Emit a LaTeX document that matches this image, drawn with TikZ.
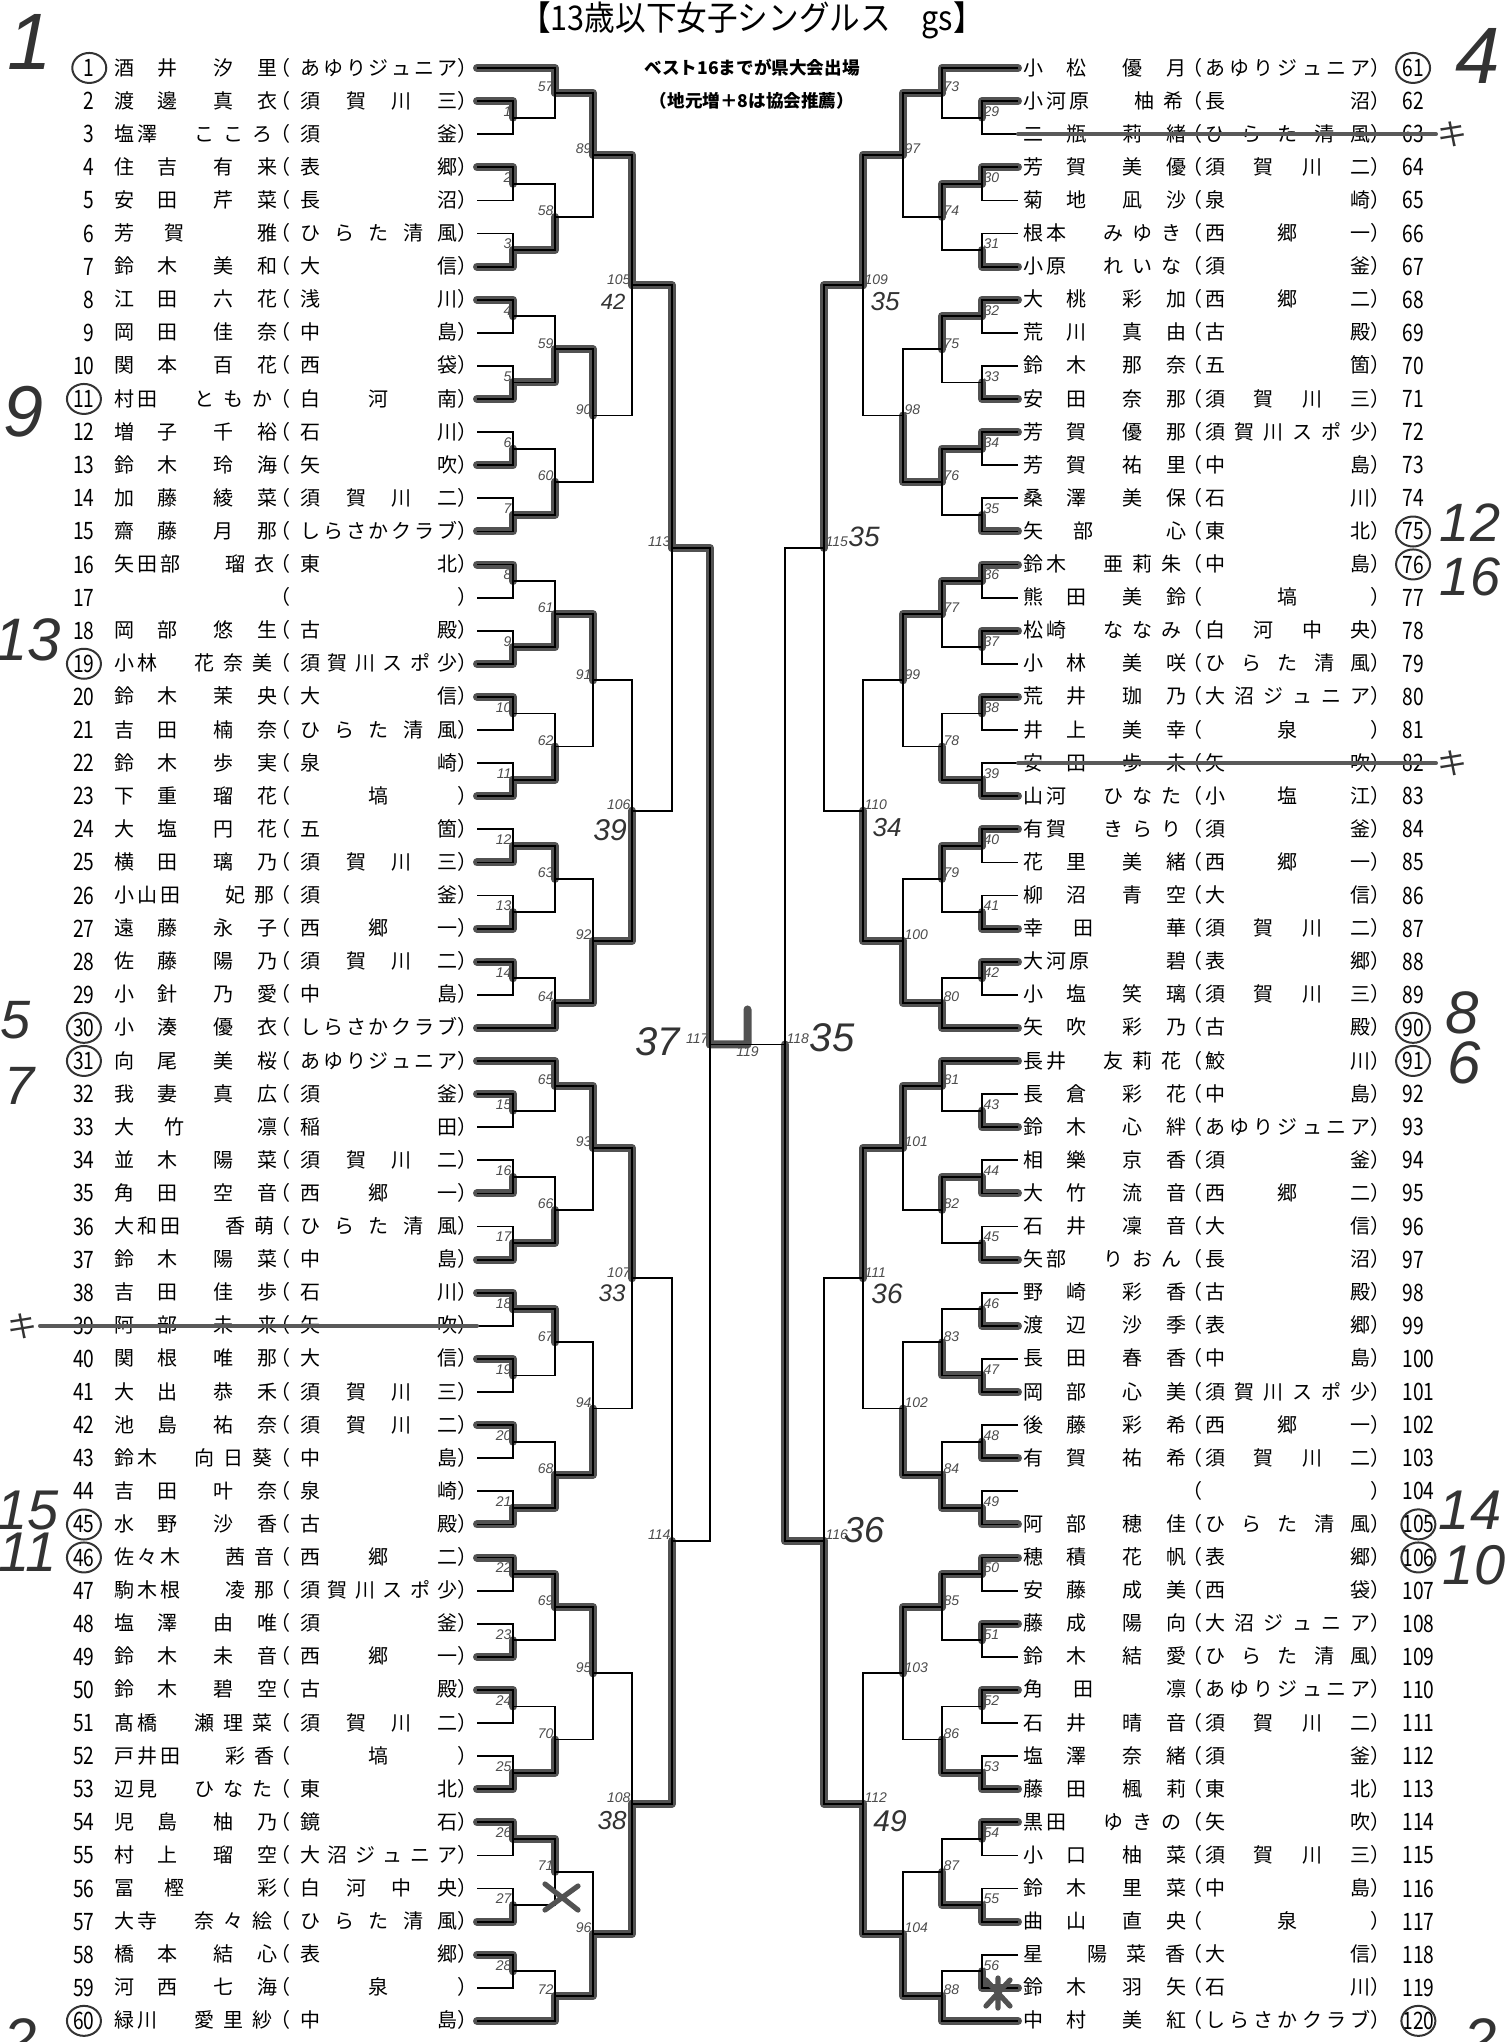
\documentclass[tikz,border=0pt]{standalone}
\usepackage{graphicx}
\usepackage{fontspec}
\setmainfont{Noto Sans CJK JP}
\newfontfamily\labfont{Liberation Sans}
\newfontfamily\handfont{Liberation Sans}
\usetikzlibrary{calc}
\pgfdeclarelayer{paper}
\pgfdeclarelayer{marker}
\pgfsetlayers{paper,marker,main}

% one pixel of the sheet
\newlength\px
\setlength\px{0.5pt}
% a character centred at an offset
\newcommand\pc[2]{\makebox[0pt][l]{\hspace*{\dimexpr#1\px-0.5em\relax}#2}}
% name layouts (surname + given name)
\newcommand\nA[4]{\pc{0}{#1}\pc{43}{#2}\pc{99}{#3}\pc{143}{#4}}
\newcommand\nB[5]{\pc{0}{#1}\pc{23}{#2}\pc{80}{#3}\pc{109}{#4}\pc{138}{#5}}
\newcommand\nC[5]{\pc{0}{#1}\pc{23}{#2}\pc{46}{#3}\pc{111}{#4}\pc{140}{#5}}
\newcommand\nD[3]{\pc{0}{#1}\pc{50}{#2}\pc{143}{#3}}
\newcommand\nE[4]{\pc{0}{#1}\pc{64}{#2}\pc{103}{#3}\pc{142}{#4}}
\newcommand\nF[4]{\pc{0}{#1}\pc{23}{#2}\pc{46}{#3}\pc{143}{#4}}
% spread the letters of a club over its field
\def\spread#1{\spreadi#1\relax}
\def\spreadi#1#2{#1\ifx\relax#2\else\hfill\expandafter\spreadi\expandafter#2\fi}
\newcommand\clL[1]{（\hspace*{10\px}\makebox[157\px][l]{\spread{#1}}）}
\newcommand\clR[1]{（\hspace*{3\px}\makebox[165\px][l]{\spread{#1}}）}

% player rows
\newcommand\pl[3]{%
  \pgfmathsetmacro\yy{68+33.1*(#1-1)}%
  \coordinate (p#1) at (477,\yy);
  \node[no,anchor=base east] (no#1) at (95,\yy+8.5) {\scalebox{.8}[1]{#1}};
  \node[nm] (nm#1) at (123,\yy+7) {#2};
  \node[nm] (cl#1) at (270,\yy+7) {\clL{#3}};
}
\newcommand\pr[3]{%
  \pgfmathsetmacro\yy{68+33.1*(#1-61)}%
  \coordinate (p#1) at (1018,\yy);
  \node[nm] (nm#1) at (1032,\yy+7) {#2};
  \node[nm] (cl#1) at (1182,\yy+7) {\clR{#3}};
  \node[no,anchor=base west] (no#1) at (1402,\yy+8.5) {\scalebox{.8}[1]{#1}};
}
% one match: number, two entries, column, winner
\newcommand\mt[5]{%
  \coordinate (mid#1) at ($(#2)!.5!(#3)$);
  \coordinate (m#1) at (mid#1 -| #4);
  \begin{pgfonlayer}{marker}
    \draw[hilite] (#5) -- (#5 -| m#1) -- (m#1);
  \end{pgfonlayer}
  \draw[bk] (#2) -- (#2 -| m#1) -- (#3 -| m#1) -- (#3);
  \node[lab] (t#1) at (m#1) {#1};
}

\begin{document}
\begin{tikzpicture}[x=0.5pt,y=-0.5pt,
  nm/.style={anchor=base west,inner sep=0pt,font=\fontsize{10}{12}\selectfont},
  no/.style={inner sep=0pt,font=\fontsize{12}{12}\selectfont},
  bk/.style={line width=0.9pt},
  hilite/.style={line width=4pt,draw=black!68,line cap=round,line join=round},
  labL/.style={inner sep=0pt,anchor=east,xshift=-0.6pt,yshift=3pt,text=black!70,
    font=\labfont\itshape\fontsize{7}{7}\selectfont},
  labR/.style={inner sep=0pt,anchor=west,xshift=0.6pt,yshift=3pt,text=black!70,
    font=\labfont\itshape\fontsize{7}{7}\selectfont},
  hw/.style={inner sep=0pt,text=black!80,font=\handfont\itshape\fontsize{#1}{#1}\selectfont},
  ring/.style={draw=black!80,line width=1pt},
  pen/.style={draw=black!65,line width=2pt,line cap=round},
]
\useasboundingbox (0,0) rectangle (1506,2042);
\begin{pgfonlayer}{paper}
  \fill[white] (0,0) rectangle (1506,2042);
\end{pgfonlayer}

% heading
\node[font=\fontsize{17}{17}\selectfont] (title) at (752,20) {\scalebox{.9}[1]{【13歳以下女子シングルス　gs】}};
\node[font=\bfseries\fontsize{8.8}{9}\selectfont] (note1) at (752,68) {ベスト16までが県大会出場};
\node[font=\bfseries\fontsize{8.8}{9}\selectfont] (note2) at (752,101) {（地元増＋8は協会推薦）};

% columns of the draw
\coordinate (L1) at (513,0); \coordinate (L2) at (555,0); \coordinate (L3) at (593,0);
\coordinate (L4) at (632,0); \coordinate (L5) at (672,0); \coordinate (L6) at (710,0);
\coordinate (R1) at (982,0); \coordinate (R2) at (942,0); \coordinate (R3) at (903,0);
\coordinate (R4) at (863,0); \coordinate (R5) at (824,0); \coordinate (R6) at (785,0);

% left half
\pl{1}{\nA{酒}{井}{汐}{里}}{あゆりジュニア}
\pl{2}{\nA{渡}{邊}{真}{衣}}{須賀川三}
\pl{3}{\nB{塩}{澤}{こ}{こ}{ろ}}{須釜}
\pl{4}{\nA{住}{吉}{有}{来}}{表郷}
\pl{5}{\nA{安}{田}{芹}{菜}}{長沼}
\pl{6}{\nD{芳}{賀}{雅}}{ひらた清風}
\pl{7}{\nA{鈴}{木}{美}{和}}{大信}
\pl{8}{\nA{江}{田}{六}{花}}{浅川}
\pl{9}{\nA{岡}{田}{佳}{奈}}{中島}
\pl{10}{\nA{関}{本}{百}{花}}{西袋}
\pl{11}{\nB{村}{田}{と}{も}{か}}{白河南}
\pl{12}{\nA{増}{子}{千}{裕}}{石川}
\pl{13}{\nA{鈴}{木}{玲}{海}}{矢吹}
\pl{14}{\nA{加}{藤}{綾}{菜}}{須賀川二}
\pl{15}{\nA{齋}{藤}{月}{那}}{しらさかクラブ}
\pl{16}{\nC{矢}{田}{部}{瑠}{衣}}{東北}
\pl{17}{}{\hfill}
\pl{18}{\nA{岡}{部}{悠}{生}}{古殿}
\pl{19}{\nB{小}{林}{花}{奈}{美}}{須賀川スポ少}
\pl{20}{\nA{鈴}{木}{茉}{央}}{大信}
\pl{21}{\nA{吉}{田}{楠}{奈}}{ひらた清風}
\pl{22}{\nA{鈴}{木}{歩}{実}}{泉崎}
\pl{23}{\nA{下}{重}{瑠}{花}}{\hfill 塙\hfill}
\pl{24}{\nA{大}{塩}{円}{花}}{五箇}
\pl{25}{\nA{横}{田}{璃}{乃}}{須賀川三}
\pl{26}{\nC{小}{山}{田}{妃}{那}}{須釜}
\pl{27}{\nA{遠}{藤}{永}{子}}{西郷一}
\pl{28}{\nA{佐}{藤}{陽}{乃}}{須賀川二}
\pl{29}{\nA{小}{針}{乃}{愛}}{中島}
\pl{30}{\nA{小}{湊}{優}{衣}}{しらさかクラブ}
\pl{31}{\nA{向}{尾}{美}{桜}}{あゆりジュニア}
\pl{32}{\nA{我}{妻}{真}{広}}{須釜}
\pl{33}{\nD{大}{竹}{凛}}{稲田}
\pl{34}{\nA{並}{木}{陽}{菜}}{須賀川二}
\pl{35}{\nA{角}{田}{空}{音}}{西郷一}
\pl{36}{\nC{大}{和}{田}{香}{萌}}{ひらた清風}
\pl{37}{\nA{鈴}{木}{陽}{菜}}{中島}
\pl{38}{\nA{吉}{田}{佳}{歩}}{石川}
\pl{39}{\nA{阿}{部}{未}{来}}{矢吹}
\pl{40}{\nA{関}{根}{唯}{那}}{大信}
\pl{41}{\nA{大}{出}{恭}{禾}}{須賀川三}
\pl{42}{\nA{池}{島}{祐}{奈}}{須賀川二}
\pl{43}{\nB{鈴}{木}{向}{日}{葵}}{中島}
\pl{44}{\nA{吉}{田}{叶}{奈}}{泉崎}
\pl{45}{\nA{水}{野}{沙}{香}}{古殿}
\pl{46}{\nC{佐}{々}{木}{茜}{音}}{西郷二}
\pl{47}{\nC{駒}{木}{根}{凌}{那}}{須賀川スポ少}
\pl{48}{\nA{塩}{澤}{由}{唯}}{須釜}
\pl{49}{\nA{鈴}{木}{未}{音}}{西郷一}
\pl{50}{\nA{鈴}{木}{碧}{空}}{古殿}
\pl{51}{\nB{髙}{橋}{瀬}{理}{菜}}{須賀川二}
\pl{52}{\nC{戸}{井}{田}{彩}{香}}{\hfill 塙\hfill}
\pl{53}{\nB{辺}{見}{ひ}{な}{た}}{東北}
\pl{54}{\nA{児}{島}{柚}{乃}}{鏡石}
\pl{55}{\nA{村}{上}{瑠}{空}}{大沼ジュニア}
\pl{56}{\nD{冨}{樫}{彩}}{白河中央}
\pl{57}{\nB{大}{寺}{奈}{々}{絵}}{ひらた清風}
\pl{58}{\nA{橋}{本}{結}{心}}{表郷}
\pl{59}{\nA{河}{西}{七}{海}}{\hfill 泉\hfill}
\pl{60}{\nB{緑}{川}{愛}{里}{紗}}{中島}

% right half
\pr{61}{\nA{小}{松}{優}{月}}{あゆりジュニア}
\pr{62}{\nC{小}{河}{原}{柚}{希}}{長沼}
\pr{63}{\nA{二}{瓶}{莉}{緒}}{ひらた清風}
\pr{64}{\nA{芳}{賀}{美}{優}}{須賀川二}
\pr{65}{\nA{菊}{地}{凪}{沙}}{泉崎}
\pr{66}{\nB{根}{本}{み}{ゆ}{き}}{西郷一}
\pr{67}{\nB{小}{原}{れ}{い}{な}}{須釜}
\pr{68}{\nA{大}{桃}{彩}{加}}{西郷二}
\pr{69}{\nA{荒}{川}{真}{由}}{古殿}
\pr{70}{\nA{鈴}{木}{那}{奈}}{五箇}
\pr{71}{\nA{安}{田}{奈}{那}}{須賀川三}
\pr{72}{\nA{芳}{賀}{優}{那}}{須賀川スポ少}
\pr{73}{\nA{芳}{賀}{祐}{里}}{中島}
\pr{74}{\nA{桑}{澤}{美}{保}}{石川}
\pr{75}{\nD{矢}{部}{心}}{東北}
\pr{76}{\nB{鈴}{木}{亜}{莉}{朱}}{中島}
\pr{77}{\nA{熊}{田}{美}{鈴}}{\hfill 塙\hfill}
\pr{78}{\nB{松}{崎}{な}{な}{み}}{白河中央}
\pr{79}{\nA{小}{林}{美}{咲}}{ひらた清風}
\pr{80}{\nA{荒}{井}{珈}{乃}}{大沼ジュニア}
\pr{81}{\nA{井}{上}{美}{幸}}{\hfill 泉\hfill}
\pr{82}{\nA{安}{田}{歩}{未}}{矢吹}
\pr{83}{\nB{山}{河}{ひ}{な}{た}}{小塩江}
\pr{84}{\nB{有}{賀}{き}{ら}{り}}{須釜}
\pr{85}{\nA{花}{里}{美}{緒}}{西郷一}
\pr{86}{\nA{柳}{沼}{青}{空}}{大信}
\pr{87}{\nD{幸}{田}{華}}{須賀川二}
\pr{88}{\nF{大}{河}{原}{碧}}{表郷}
\pr{89}{\nA{小}{塩}{笑}{璃}}{須賀川三}
\pr{90}{\nA{矢}{吹}{彩}{乃}}{古殿}
\pr{91}{\nB{長}{井}{友}{莉}{花}}{鮫川}
\pr{92}{\nA{長}{倉}{彩}{花}}{中島}
\pr{93}{\nA{鈴}{木}{心}{絆}}{あゆりジュニア}
\pr{94}{\nA{相}{樂}{京}{香}}{須釜}
\pr{95}{\nA{大}{竹}{流}{音}}{西郷二}
\pr{96}{\nA{石}{井}{凜}{音}}{大信}
\pr{97}{\nB{矢}{部}{り}{お}{ん}}{長沼}
\pr{98}{\nA{野}{崎}{彩}{香}}{古殿}
\pr{99}{\nA{渡}{辺}{沙}{季}}{表郷}
\pr{100}{\nA{長}{田}{春}{香}}{中島}
\pr{101}{\nA{岡}{部}{心}{美}}{須賀川スポ少}
\pr{102}{\nA{後}{藤}{彩}{希}}{西郷一}
\pr{103}{\nA{有}{賀}{祐}{希}}{須賀川二}
\pr{104}{}{\hfill}
\pr{105}{\nA{阿}{部}{穂}{佳}}{ひらた清風}
\pr{106}{\nA{穂}{積}{花}{帆}}{表郷}
\pr{107}{\nA{安}{藤}{成}{美}}{西袋}
\pr{108}{\nA{藤}{成}{陽}{向}}{大沼ジュニア}
\pr{109}{\nA{鈴}{木}{結}{愛}}{ひらた清風}
\pr{110}{\nD{角}{田}{凛}}{あゆりジュニア}
\pr{111}{\nA{石}{井}{晴}{音}}{須賀川二}
\pr{112}{\nA{塩}{澤}{奈}{緒}}{須釜}
\pr{113}{\nA{藤}{田}{楓}{莉}}{東北}
\pr{114}{\nB{黒}{田}{ゆ}{き}{の}}{矢吹}
\pr{115}{\nA{小}{口}{柚}{菜}}{須賀川三}
\pr{116}{\nA{鈴}{木}{里}{菜}}{中島}
\pr{117}{\nA{曲}{山}{直}{央}}{\hfill 泉\hfill}
\pr{118}{\nE{星}{陽}{菜}{香}}{大信}
\pr{119}{\nA{鈴}{木}{羽}{矢}}{石川}
\pr{120}{\nA{中}{村}{美}{紅}}{しらさかクラブ}

% left bracket
\begin{scope}[lab/.style={labL}]
\mt{1}{p2}{p3}{L1}{p2}
\mt{2}{p4}{p5}{L1}{p4}
\mt{3}{p6}{p7}{L1}{p7}
\mt{4}{p8}{p9}{L1}{p8}
\mt{5}{p10}{p11}{L1}{p11}
\mt{6}{p12}{p13}{L1}{p13}
\mt{7}{p14}{p15}{L1}{p15}
\mt{8}{p16}{p17}{L1}{p16}
\mt{9}{p18}{p19}{L1}{p19}
\mt{10}{p20}{p21}{L1}{p20}
\mt{11}{p22}{p23}{L1}{p23}
\mt{12}{p24}{p25}{L1}{p25}
\mt{13}{p26}{p27}{L1}{p27}
\mt{14}{p28}{p29}{L1}{p28}
\mt{15}{p32}{p33}{L1}{p32}
\mt{16}{p34}{p35}{L1}{p35}
\mt{17}{p36}{p37}{L1}{p37}
\mt{18}{p38}{p39}{L1}{p38}
\mt{19}{p40}{p41}{L1}{p40}
\mt{20}{p42}{p43}{L1}{p42}
\mt{21}{p44}{p45}{L1}{p45}
\mt{22}{p46}{p47}{L1}{p46}
\mt{23}{p48}{p49}{L1}{p49}
\mt{24}{p50}{p51}{L1}{p50}
\mt{25}{p52}{p53}{L1}{p53}
\mt{26}{p54}{p55}{L1}{p54}
\mt{27}{p56}{p57}{L1}{p57}
\mt{28}{p58}{p59}{L1}{p58}
\mt{57}{p1}{m1}{L2}{p1}
\mt{58}{m2}{m3}{L2}{m3}
\mt{59}{m4}{m5}{L2}{m5}
\mt{60}{m6}{m7}{L2}{m7}
\mt{61}{m8}{m9}{L2}{m9}
\mt{62}{m10}{m11}{L2}{m11}
\mt{63}{m12}{m13}{L2}{m12}
\mt{64}{m14}{p30}{L2}{p30}
\mt{65}{p31}{m15}{L2}{p31}
\mt{66}{m16}{m17}{L2}{m17}
\mt{67}{m18}{m19}{L2}{m18}
\mt{68}{m20}{m21}{L2}{m21}
\mt{69}{m22}{m23}{L2}{m22}
\mt{70}{m24}{m25}{L2}{m25}
\mt{71}{m26}{m27}{L2}{m26}
\mt{72}{m28}{p60}{L2}{p60}
\mt{89}{m57}{m58}{L3}{m57}
\mt{90}{m59}{m60}{L3}{m59}
\mt{91}{m61}{m62}{L3}{m61}
\mt{92}{m63}{m64}{L3}{m64}
\mt{93}{m65}{m66}{L3}{m65}
\mt{94}{m67}{m68}{L3}{m68}
\mt{95}{m69}{m70}{L3}{m69}
\mt{96}{m71}{m72}{L3}{m72}
\mt{105}{m89}{m90}{L4}{m89}
\mt{106}{m91}{m92}{L4}{m92}
\mt{107}{m93}{m94}{L4}{m93}
\mt{108}{m95}{m96}{L4}{m96}
\mt{113}{m105}{m106}{L5}{m105}
\mt{114}{m107}{m108}{L5}{m108}
\mt{117}{m113}{m114}{L6}{m113}
\end{scope}

% right bracket
\begin{scope}[lab/.style={labR}]
\mt{29}{p62}{p63}{R1}{p62}
\mt{30}{p64}{p65}{R1}{p64}
\mt{31}{p66}{p67}{R1}{p67}
\mt{32}{p68}{p69}{R1}{p68}
\mt{33}{p70}{p71}{R1}{p71}
\mt{34}{p72}{p73}{R1}{p72}
\mt{35}{p74}{p75}{R1}{p75}
\mt{36}{p76}{p77}{R1}{p76}
\mt{37}{p78}{p79}{R1}{p78}
\mt{38}{p80}{p81}{R1}{p80}
\mt{39}{p82}{p83}{R1}{p83}
\mt{40}{p84}{p85}{R1}{p84}
\mt{41}{p86}{p87}{R1}{p87}
\mt{42}{p88}{p89}{R1}{p88}
\mt{43}{p92}{p93}{R1}{p93}
\mt{44}{p94}{p95}{R1}{p95}
\mt{45}{p96}{p97}{R1}{p97}
\mt{46}{p98}{p99}{R1}{p99}
\mt{47}{p100}{p101}{R1}{p101}
\mt{48}{p102}{p103}{R1}{p103}
\mt{49}{p104}{p105}{R1}{p105}
\mt{50}{p106}{p107}{R1}{p106}
\mt{51}{p108}{p109}{R1}{p108}
\mt{52}{p110}{p111}{R1}{p110}
\mt{53}{p112}{p113}{R1}{p113}
\mt{54}{p114}{p115}{R1}{p114}
\mt{55}{p116}{p117}{R1}{p117}
\mt{56}{p118}{p119}{R1}{p119}
\mt{73}{p61}{m29}{R2}{p61}
\mt{74}{m30}{m31}{R2}{m30}
\mt{75}{m32}{m33}{R2}{m32}
\mt{76}{m34}{m35}{R2}{m34}
\mt{77}{m36}{m37}{R2}{m36}
\mt{78}{m38}{m39}{R2}{m39}
\mt{79}{m40}{m41}{R2}{m40}
\mt{80}{m42}{p90}{R2}{p90}
\mt{81}{p91}{m43}{R2}{p91}
\mt{82}{m44}{m45}{R2}{m44}
\mt{83}{m46}{m47}{R2}{m47}
\mt{84}{m48}{m49}{R2}{m49}
\mt{85}{m50}{m51}{R2}{m50}
\mt{86}{m52}{m53}{R2}{m53}
\mt{87}{m54}{m55}{R2}{m55}
\mt{88}{m56}{p120}{R2}{p120}
\mt{97}{m73}{m74}{R3}{m73}
\mt{98}{m75}{m76}{R3}{m76}
\mt{99}{m77}{m78}{R3}{m77}
\mt{100}{m79}{m80}{R3}{m80}
\mt{101}{m81}{m82}{R3}{m81}
\mt{102}{m83}{m84}{R3}{m84}
\mt{103}{m85}{m86}{R3}{m85}
\mt{104}{m87}{m88}{R3}{m88}
\mt{109}{m97}{m98}{R4}{m97}
\mt{110}{m99}{m100}{R4}{m100}
\mt{111}{m101}{m102}{R4}{m101}
\mt{112}{m103}{m104}{R4}{m104}
\mt{115}{m109}{m110}{R5}{m109}
\mt{116}{m111}{m112}{R5}{m112}
\mt{118}{m115}{m116}{R6}{m116}
\end{scope}

% final
\coordinate (m119) at ($(m117)!.5!(m118)$);
\begin{pgfonlayer}{marker}
  \draw[hilite] (m117) -- (m119) -- ++(0,-35);
\end{pgfonlayer}
\draw[bk] (m117) -- (m118);
\node[labL,anchor=north,xshift=0.6pt,yshift=-4pt] (t119) at (m119) {119};

% pen notes on the draw
\node[hw=11] (h105) at ($(m105)+(-19,17)$) {42};
\node[hw=15] (h106) at ($(m106)+(-22,19)$) {39};
\node[hw=12] (h107) at ($(m107)+(-20,15)$) {33};
\node[hw=13] (h108) at ($(m108)+(-20,17)$) {38};
\node[hw=13] (h109) at ($(m109)+(22,16)$) {35};
\node[hw=13] (h110) at ($(m110)+(24,17)$) {34};
\node[hw=14] (h111) at ($(m111)+(24,16)$) {36};
\node[hw=15] (h112) at ($(m112)+(27,17)$) {49};
\node[hw=14] (h115) at ($(m115)+(40,-11)$) {35};
\node[hw=18] (h116) at ($(m116)+(40,-11)$) {36};
\node[hw=20] (h117) at ($(m117)+(-52,-3)$) {37};
\node[hw=20] (h118) at ($(m118)+(47,-7)$) {35};

% seeds written in the margins
\foreach \n in {1,11,19,30,31,45,46,60,61,75,76,90,91,105,106,120}
  \draw[ring] (no\n.center) ellipse [x radius=17, y radius=15];
\node[hw=40] (s1) at (30,42) {1};
\node[hw=36] (s11) at (24,412) {9};
\node[hw=30] (s19) at (28,640) {13};
\node[hw=27] (s30) at (16,1020) {5};
\node[hw=27] (s31) at (20,1086) {7};
\node[hw=28] (s45) at (28,1510) {15};
\node[hw=28] (s46) at (28,1552) {11};
\node[hw=30] (s60) at (20,2040) {2};
\node[hw=40] (s61) at (1478,56) {4};
\node[hw=27] (s75) at (1470,523) {12};
\node[hw=27] (s76) at (1470,577) {16};
\node[hw=30] (s90) at (1462,1013) {8};
\node[hw=30] (s91) at (1464,1063) {6};
\node[hw=28] (s105) at (1470,1510) {14};
\node[hw=28] (s106) at (1474,1565) {10};
\node[hw=30] (s120) at (1480,2040) {2};

% withdrawals
\draw[pen] (40,{68+33.1*38}) -- (p39);
\draw[pen] (p63) -- (1436,{68+33.1*2});
\draw[pen] (p82) -- (1436,{68+33.1*21});
\node[inner sep=0pt,text=black!80,font=\fontsize{15}{15}\selectfont] (k39) at (22,{68+33.1*38}) {キ};
\node[inner sep=0pt,text=black!80,font=\fontsize{15}{15}\selectfont] (k63) at (1452,{68+33.1*2}) {キ};
\node[inner sep=0pt,text=black!80,font=\fontsize{15}{15}\selectfont] (k82) at (1452,{68+33.1*21}) {キ};

% crosses
\draw[hilite,line width=2.6pt] (545,1884) -- (578,1910) (545,1910) -- (578,1886);
\draw[hilite,line width=2.6pt] (986,1980) -- (1010,2006) (986,2006) -- (1010,1980) (998,1978) -- (998,2008);
\end{tikzpicture}
\end{document}
